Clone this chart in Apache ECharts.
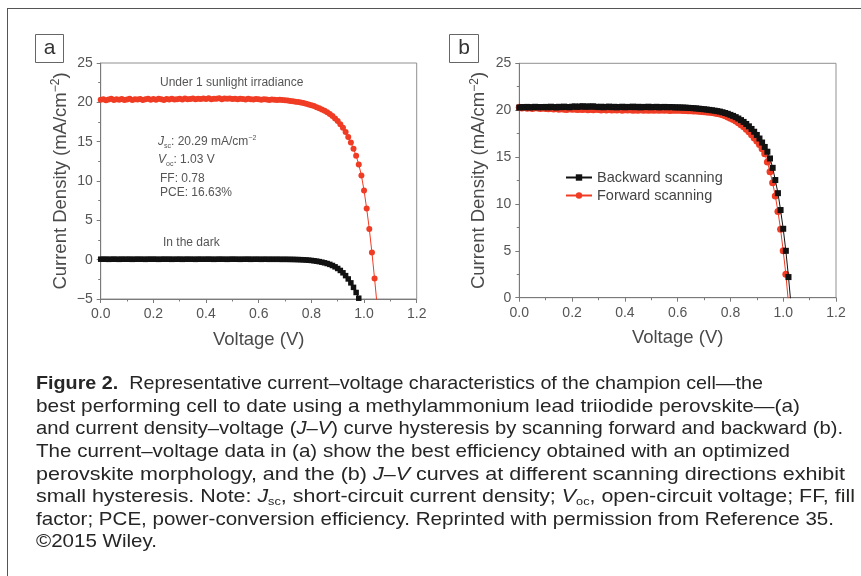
<!DOCTYPE html>
<html><head><meta charset="utf-8">
<script src="https://cdn.jsdelivr.net/npm/echarts/dist/echarts.min.js"></script>
<style>
html,body{margin:0;padding:0;background:#fff;}
#wrap{position:relative;width:861px;height:576px;overflow:hidden;background:#fff;}
#chart{position:absolute;left:0;top:0;width:861px;height:576px;}
#frame{position:absolute;left:7px;top:8px;width:900px;height:600px;border-left:1.7px solid #555;border-top:1.7px solid #555;}
#caption{position:absolute;left:36px;top:372px;font-family:'Liberation Sans',Arial,Helvetica,sans-serif;font-size:18.5px;line-height:22.65px;color:#262626;white-space:nowrap;}
#caption .ln{display:block;height:22.65px;}
#caption .ln span{display:inline-block;transform-origin:0 50%;}
#caption sub{font-size:11px;vertical-align:-3px;line-height:0;}
</style></head>
<body>
<div id="wrap">
<div id="frame"></div>
<div id="chart"></div>
<div id="caption">
<div class="ln"><span data-w="727"><b>Figure 2.</b>&nbsp; Representative current–voltage characteristics of the champion cell—the</span></div>
<div class="ln"><span data-w="764">best performing cell to date using a methylammonium lead triiodide perovskite—(a)</span></div>
<div class="ln"><span data-w="807">and current density–voltage (<i>J–V</i>) curve hysteresis by scanning forward and backward (b).</span></div>
<div class="ln"><span data-w="754">The current–voltage data in (a) show the best efficiency obtained with an optimized</span></div>
<div class="ln"><span data-w="809">perovskite morphology, and the (b) <i>J–V</i> curves at different scanning directions exhibit</span></div>
<div class="ln"><span data-w="819">small hysteresis. Note: <i>J</i><sub>sc</sub>, short-circuit current density; <i>V</i><sub>oc</sub>, open-circuit voltage; FF, fill</span></div>
<div class="ln"><span data-w="798">factor; PCE, power-conversion efficiency. Reprinted with permission from Reference 35.</span></div>
<div class="ln"><span data-w="121">©2015 Wiley.</span></div>
</div>
</div>
<script>
// Voltage steps (V)
const volt = [0.00,0.01,0.02,0.03,0.04,0.05,0.06,0.07,0.08,0.09,
0.10,0.11,0.12,0.13,0.14,0.15,0.16,0.17,0.18,0.19,
0.20,0.21,0.22,0.23,0.24,0.25,0.26,0.27,0.28,0.29,
0.30,0.31,0.32,0.33,0.34,0.35,0.36,0.37,0.38,0.39,
0.40,0.41,0.42,0.43,0.44,0.45,0.46,0.47,0.48,0.49,
0.50,0.51,0.52,0.53,0.54,0.55,0.56,0.57,0.58,0.59,
0.60,0.61,0.62,0.63,0.64,0.65,0.66,0.67,0.68,0.69,
0.70,0.71,0.72,0.73,0.74,0.75,0.76,0.77,0.78,0.79,
0.80,0.81,0.82,0.83,0.84,0.85,0.86,0.87,0.88,0.89,
0.90,0.91,0.92,0.93,0.94,0.95,0.96,0.97,0.98,0.99,
1.00,1.01,1.02,1.03,1.04,1.05];

// Panel a: under 1 sun (mA/cm2)
const jLightA = [20.32,20.40,20.28,20.36,20.44,20.30,20.38,20.33,20.42,20.29,
20.37,20.45,20.31,20.40,20.35,20.43,20.30,20.39,20.46,20.34,
20.41,20.33,20.44,20.38,20.30,20.42,20.36,20.47,20.35,20.40,
20.44,20.37,20.48,20.39,20.43,20.50,20.38,20.45,20.41,20.49,
20.43,20.52,20.40,20.47,20.44,20.51,20.39,20.48,20.45,20.50,
20.42,20.47,20.38,20.45,20.41,20.36,20.44,20.40,20.35,20.42,
20.38,20.33,20.40,20.36,20.31,20.37,20.33,20.29,20.34,20.30,
20.25,20.22,20.18,20.14,20.09,20.03,19.97,19.90,19.82,19.73,
19.63,19.52,19.39,19.25,19.10,18.93,18.74,18.52,18.26,17.96,
17.62,17.22,16.76,16.22,15.60,14.90,14.10,13.20,12.10,10.70,
8.80,6.50,3.90,0.90,-2.40,-5.90];

// Panel a: in the dark
const jDarkA = [0.06,0.05,0.06,0.04,0.05,0.06,0.05,0.04,0.06,0.05,
0.05,0.06,0.04,0.05,0.06,0.05,0.05,0.04,0.06,0.05,
0.06,0.05,0.04,0.05,0.06,0.05,0.06,0.04,0.05,0.05,
0.06,0.04,0.05,0.06,0.05,0.05,0.04,0.06,0.05,0.05,
0.05,0.06,0.05,0.04,0.05,0.06,0.05,0.05,0.04,0.05,
0.06,0.05,0.05,0.04,0.05,0.05,0.06,0.04,0.05,0.05,
0.05,0.04,0.05,0.05,0.04,0.05,0.04,0.05,0.04,0.04,
0.04,0.04,0.03,0.03,0.02,0.01,0.00,-0.02,-0.04,-0.07,
-0.10,-0.14,-0.19,-0.25,-0.32,-0.40,-0.49,-0.60,-0.74,-0.91,
-1.12,-1.37,-1.67,-2.03,-2.45,-2.95,-3.52,-4.17,-4.90,-5.70];

// Panel b: backward scanning
const jBackB = [20.28,20.33,20.30,20.35,20.29,20.32,20.36,20.30,20.34,20.31,
20.35,20.30,20.37,20.33,20.29,20.36,20.32,20.38,20.34,20.31,
20.37,20.40,20.35,20.39,20.42,20.36,20.40,20.38,20.41,20.36,
20.33,20.37,20.31,20.35,20.38,20.32,20.36,20.30,20.34,20.37,
20.31,20.35,20.33,20.38,20.32,20.36,20.30,20.35,20.33,20.37,
20.31,20.34,20.36,20.30,20.33,20.35,20.31,20.34,20.32,20.30,
20.30,20.29,20.28,20.27,20.25,20.23,20.21,20.19,20.16,20.13,
20.10,20.07,20.03,19.99,19.95,19.90,19.85,19.78,19.70,19.61,
19.50,19.39,19.26,19.11,18.94,18.75,18.53,18.28,18.00,17.70,
17.36,16.98,16.55,16.08,15.57,14.85,13.85,12.55,11.15,9.35,
7.35,5.00,2.20,-0.90];

// Panel b: forward scanning
const jFwdB = [20.30,20.24,20.28,20.21,20.26,20.19,20.25,20.22,20.17,20.23,
20.18,20.14,20.20,20.12,20.17,20.10,20.15,20.11,20.08,20.14,
20.09,20.13,20.06,20.11,20.07,20.12,20.05,20.09,20.04,20.10,
20.06,20.02,20.08,20.03,20.07,20.01,20.05,20.02,20.06,20.00,
20.04,20.01,20.05,19.99,20.03,20.00,20.04,19.98,20.02,20.00,
20.03,19.99,20.02,19.98,20.01,19.99,20.02,19.97,20.00,19.99,
20.00,19.98,19.97,19.96,19.95,19.94,19.92,19.90,19.88,19.86,
19.84,19.81,19.78,19.74,19.70,19.65,19.58,19.50,19.40,19.28,
19.15,19.00,18.84,18.66,18.45,18.22,17.97,17.69,17.38,17.04,
16.70,16.33,15.88,15.35,14.48,13.42,12.25,10.85,9.20,7.30,
5.00,2.50,-0.60];

const xTicks = {min:0, max:1.2, interval:0.2};
const yTicksA = {min:-5, max:25, interval:5};
const yTicksB = {min:0, max:25, interval:5};

const F = "'Liberation Sans', Arial, Helvetica, sans-serif";
const RED = '#F03C24', BLK = '#111111', AX = '#7a7a7a', TXT = '#4a4a4a';

function pairs(a){ return a.map((j,i)=>[volt[i], j]); }

function xAxis(gi){
  return {type:'value', gridIndex:gi, min:xTicks.min, max:xTicks.max, interval:xTicks.interval,
    name:'Voltage (V)', nameLocation:'middle', nameGap:31,
    nameTextStyle:{fontSize:18.5, color:TXT, fontFamily:F},
    axisLine:{show:true, onZero:false, lineStyle:{color:AX, width:1}},
    axisTick:{show:true, inside:false, length:4, lineStyle:{color:AX}},
    minorTick:{show:true, splitNumber:2, length:2.5, lineStyle:{color:AX}},
    splitLine:{show:false}, minorSplitLine:{show:false},
    axisLabel:{fontSize:14, color:'#555', fontFamily:F, margin:8, formatter:v=>v.toFixed(1)}};
}
function yAxis(gi, t){
  return {type:'value', gridIndex:gi, min:t.min, max:t.max, interval:t.interval,
    name:'{n|Current Density (mA/cm}{s|−2}{n|)}', nameLocation:'middle', nameGap:29,
    nameTextStyle:{fontSize:18.5, color:TXT, fontFamily:F,
      rich:{n:{fontSize:18.5, color:TXT, fontFamily:F, lineHeight:22},
            s:{fontSize:12, color:TXT, fontFamily:F, verticalAlign:'top', lineHeight:22}}},
    axisLine:{show:true, onZero:false, lineStyle:{color:AX, width:1}},
    axisTick:{show:true, inside:false, length:4, lineStyle:{color:AX}},
    minorTick:{show:true, splitNumber:2, length:2.5, lineStyle:{color:AX}},
    splitLine:{show:false}, minorSplitLine:{show:false},
    axisLabel:{fontSize:14, color:'#555', fontFamily:F, margin:8,
      formatter:v=> v<0 ? '−'+Math.abs(v) : String(v)}};
}

const chart = echarts.init(document.getElementById('chart'), null, {renderer:'canvas'});
const opt = {
  animation:false,
  backgroundColor:'transparent',
  grid:[
    {left:100.7, top:63, width:316, height:236, show:true, borderColor:'#909090', borderWidth:1, backgroundColor:'transparent', containLabel:false, outerBoundsMode:'none'},
    {left:519.3, top:63.3, width:316.7, height:234.4, show:true, borderColor:'#909090', borderWidth:1, backgroundColor:'transparent', containLabel:false, outerBoundsMode:'none'}
  ],
  xAxis:[xAxis(0), xAxis(1)],
  yAxis:[yAxis(0, yTicksA), yAxis(1, yTicksB)],
  legend:{data:['Backward scanning','Forward scanning'], orient:'vertical', left:565, top:170,
    itemWidth:26, itemHeight:8, itemGap:3, padding:0,
    textStyle:{fontSize:14.5, color:'#444', fontFamily:F}},
  series:[
    {type:'line', name:'In the dark', xAxisIndex:0, yAxisIndex:0, data:pairs(jDarkA),
      symbol:'rect', symbolSize:5.5, showAllSymbol:true, itemStyle:{color:BLK}, lineStyle:{color:BLK, width:1}, z:3},
    {type:'line', name:'Under 1 sunlight irradiance', xAxisIndex:0, yAxisIndex:0, data:pairs(jLightA),
      symbol:'circle', symbolSize:6, showAllSymbol:true, itemStyle:{color:RED}, lineStyle:{color:RED, width:1}, z:3},
    {type:'line', name:'Forward scanning', xAxisIndex:1, yAxisIndex:1, data:pairs(jFwdB),
      symbol:'circle', symbolSize:7, showAllSymbol:true, itemStyle:{color:RED}, lineStyle:{color:RED, width:1}, z:3},
    {type:'line', name:'Backward scanning', xAxisIndex:1, yAxisIndex:1, data:pairs(jBackB),
      symbol:'rect', symbolSize:6, showAllSymbol:true, itemStyle:{color:BLK}, lineStyle:{color:BLK, width:1}, z:4}
  ],
  graphic:[
    {type:'rect', shape:{x:35.5, y:34.5, width:28, height:28}, style:{fill:'none', stroke:'#666', lineWidth:1}},
    {type:'text', x:49.5, y:48, style:{text:'a', font:'21px '+F, fill:'#333', align:'center', verticalAlign:'middle'}},
    {type:'rect', shape:{x:449.5, y:34.5, width:29, height:28}, style:{fill:'none', stroke:'#666', lineWidth:1}},
    {type:'text', x:464, y:48, style:{text:'b', font:'21px '+F, fill:'#333', align:'center', verticalAlign:'middle'}},
    {type:'text', x:160, y:83, style:{text:'Under 1 sunlight irradiance', font:'12px '+F, fill:'#555', verticalAlign:'middle'}},
    {type:'text', x:158, y:142, style:{text:'{i|J}{sub|sc}{n|: 20.29 mA/cm}{sup|−2}', verticalAlign:'middle',
      rich:{i:{fontSize:12, fontStyle:'italic', fontFamily:F, fill:'#555', lineHeight:15},
            sub:{fontSize:7, fontFamily:F, fill:'#555', verticalAlign:'bottom', lineHeight:15},
            n:{fontSize:12, fontFamily:F, fill:'#555', lineHeight:15},
            sup:{fontSize:7, fontFamily:F, fill:'#555', verticalAlign:'top', lineHeight:15}}}},
    {type:'text', x:158, y:160, style:{text:'{i|V}{sub|oc}{n|: 1.03 V}', verticalAlign:'middle',
      rich:{i:{fontSize:12, fontStyle:'italic', fontFamily:F, fill:'#555', lineHeight:15},
            sub:{fontSize:7, fontFamily:F, fill:'#555', verticalAlign:'bottom', lineHeight:15},
            n:{fontSize:12, fontFamily:F, fill:'#555', lineHeight:15}}}},
    {type:'text', x:160, y:178.5, style:{text:'FF: 0.78', font:'12px '+F, fill:'#555', verticalAlign:'middle'}},
    {type:'text', x:160, y:193, style:{text:'PCE: 16.63%', font:'12px '+F, fill:'#555', verticalAlign:'middle'}},
    {type:'text', x:163, y:242.5, style:{text:'In the dark', font:'12px '+F, fill:'#555', verticalAlign:'middle'}}
  ]
};
chart.setOption(opt);

// fit caption lines to the reference line lengths
document.querySelectorAll('#caption .ln span').forEach(s=>{
  const w = s.getBoundingClientRect().width;
  const target = parseFloat(s.dataset.w);
  if (w > 0) s.style.transform = 'scaleX(' + (target / w).toFixed(4) + ')';
});
</script>
</body></html>
